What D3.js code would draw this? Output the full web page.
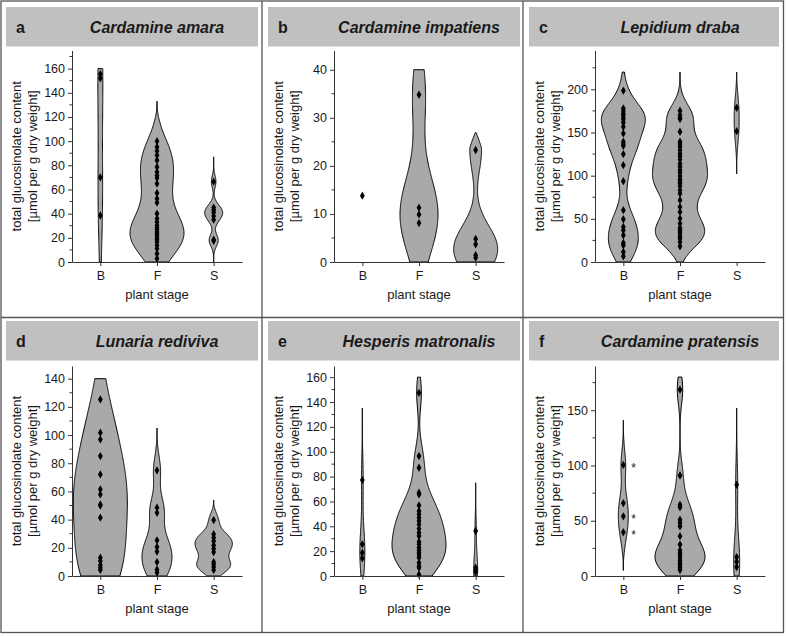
<!DOCTYPE html>
<meta charset="utf-8">

<head>

	<title> Glucosinolate content by plant stage </title>

	<style>
		body {
			margin: 0;
			background: #fff;
		}
		text {
			font-family: "Liberation Sans", Arial, sans-serif;
			fill: #1a1a1a;
		}
		.violin {
			fill: #a9a9a9;
			stroke: #000;
			stroke-width: 1px;
		}
		.axis path, .axis line, .minor {
			stroke: #333;
			stroke-width: 1px;
		}
		.axis text {
			font-size: 12.5px;
		}
		.frame {
			fill: none;
			stroke: #555;
			stroke-width: 1.3px;
		}
	</style>

</head>

<body>
  <div class="container"> </div>
</body>

<!-- D3.js -->
<script src="https://cdnjs.cloudflare.com/ajax/libs/d3/7.8.5/d3.min.js"></script>

<script type="text/javascript">

	// Page size
	var width = 786;
	var height = 636;

	// Panels and categories
	var stages = ["B", "F", "S"];
	var letters = ["a", "b", "c", "d", "e", "f"];
	var species = ["Cardamine amara", "Cardamine impatiens", "Lepidium draba",
		"Lunaria rediviva", "Hesperis matronalis", "Cardamine pratensis"];

	// y axis per panel
	var yTop = [175, 44, 245, 149, 169, 190];
	var majorStep = [20, 10, 50, 20, 20, 50];
	var minorStep = [10, 5, 25, 10, 10, 25];
	var violinClip = [160, 40, 220, 140, 160, 180];

	// total glucosinolate content, one array per panel + stage
	var aB = [38.5, 70, 152, 155.5];
	var aF = [2.8, 6.9, 11, 13.8, 16.6, 18.5, 20.1, 22.1, 23.4, 24.8, 26.8, 28.4, 30.3, 33.1, 35.9, 40,
		49.1, 52.4, 57.1, 64.8, 69.5, 71.7, 74.5, 78.6, 84.1, 88.3, 91.9, 95.2, 100];
	var aS = [17.5, 18.5, 35, 38, 41, 43, 45, 66.5];

	var bB = [13.8];
	var bF = [8.1, 9.9, 11.3, 34.8];
	var bS = [0.9, 1.4, 3.7, 4.8, 23.3];

	var cB = [6.6, 11.6, 19.3, 22, 30.9, 36.8, 40.6, 49.5, 60, 93.6, 112.2, 125, 134.6, 136.6, 139.3,
		148.9, 156.7, 161.7, 165.2, 167.5, 170.2, 172.1, 175.2, 178, 198.5];
	var cF = [18.2, 23.2, 27.1, 29.8, 32.9, 34.8, 37.5, 39.8, 44.5, 50.3, 58, 63.8, 71.6, 79.3, 83.2,
		87.8, 90.9, 92.8, 95.6, 99.4, 103.3, 106.4, 110.3, 114.1, 118.8, 122.6, 125.7, 129.6, 133.5,
		136.6, 139.3, 150.9, 165.6, 167.1, 170.2, 175.2];
	var cS = [151.6, 178.7];

	var dB = [4.3, 5.9, 7.8, 10.6, 13, 41.4, 50, 50.8, 57.9, 61.5, 72.1, 85.1, 96.9, 101.7, 125.3];
	var dF = [2.4, 4.7, 9.9, 17.3, 20.6, 25.3, 44.9, 48.5, 75];
	var dS = [4.3, 6.4, 8.3, 9.9, 17, 19.4, 21.8, 24.8, 27.2, 29.6, 39.7];

	var eB = [14.2, 18.8, 25.5, 77.2];
	var eF = [1.3, 6.7, 8, 10.7, 14.7, 16.9, 18.8, 20.6, 22.8, 25.5, 27.6, 32.2, 34.8, 38.1, 41.5,
		44.2, 46.9, 49.6, 52.3, 56.8, 65.7, 67, 87.1, 96.5, 147.4];
	var eS = [3.2, 4.6, 6.7, 36.2];

	var fB = [39.6, 54, 66, 100.5];
	var fF = [5.4, 7.5, 9.9, 12, 14.1, 16.5, 18.9, 21, 23.4, 28.5, 36, 45, 48, 51, 62.1, 64.5, 90.9, 168.6];
	var fS = [8.1, 12.9, 17.1, 82.5];

	// B values flagged with an asterisk
	var starredB = [[], [], [], [], [], [100.5, 54, 39.6]];

	var values = [[aB, aF, aS], [bB, bF, bS], [cB, cF, cS], [dB, dF, dS], [eB, eF, eS], [fB, fF, fS]];

	// kernel bandwidth and range of each violin (0 = no violin)
	var bandwidth = [[40, 14, 5], [0, 8, 4.5], [15, 14, 16], [25, 10, 5], [18, 13, 12], [13, 13, 22]];
	var kdeRange = [
		[[0, 160], [0, 133], [0, 87]],
		[null, [0, 40], [0, 27]],
		[[0, 220], [0, 220], [102, 220]],
		[[0, 140], [0, 105], [0, 54]],
		[[0, 135], [0, 160], [0, 75]],
		[[5, 141], [0, 180], [0, 152]]
	];
	// widest half width of each violin, px
	var halfWidth = [[2.5, 27, 9], [0, 19, 22], [22, 27.5, 2.5], [27, 15, 18.7], [2.5, 27, 2], [5, 25, 3]];

	// Layout
	var colLeft = [0, 262, 523];
	var headerY = [7, 321];
	var plotTop = [50.5, 366];
	var plotBottom = [262, 576];
	var plotWidth = 170;

	var svg = d3.select(".container").append("svg")
		.attr("width", width)
		.attr("height", height);

	function kde(vals, h, lo, hi, clip) {
		var n = 200;
		var pts = d3.range(n + 1).map(function (i) {
			var v = lo + (hi - lo) * i / n;
			var d = d3.sum(vals, function (x) { var u = (v - x) / h; return Math.exp(-0.5 * u * u); });
			return {v: v, d: d};
		});
		// pointed ends where the curve is not cut by the axis or clip
		var taper = 0.12 * (hi - lo);
		pts.forEach(function (d) {
			if (hi < clip && hi - d.v < taper) d.d *= Math.pow((hi - d.v) / taper, 0.7);
			if (lo > 0 && d.v - lo < taper) d.d *= Math.pow((d.v - lo) / taper, 0.7);
		});
		return pts;
	}

	letters.forEach(function (letter, p) {
		var col = p % 3, row = Math.floor(p / 3);
		var left = colLeft[col];
		var ax = left + 72;

		var y = d3.scaleLinear().domain([0, yTop[p]]).range([plotBottom[row], plotTop[row]]);
		var x = d3.scalePoint().domain(stages).range([ax, ax + plotWidth]).padding(0.5);

		var g = svg.append("g");

		// header bar
		g.append("rect")
			.attr("x", left + 6)
			.attr("y", headerY[row])
			.attr("width", col == 2 ? 250 : 252)
			.attr("height", 39.5)
			.attr("fill", "#c0c0c0");
		g.append("text")
			.attr("x", left + 16)
			.attr("y", headerY[row] + 26)
			.attr("font-size", 16)
			.attr("font-weight", "bold")
			.text(letter);
		g.append("text")
			.attr("x", ax + plotWidth / 2)
			.attr("y", headerY[row] + 26)
			.attr("text-anchor", "middle")
			.attr("font-size", 16)
			.attr("font-weight", "bold")
			.attr("font-style", "italic")
			.text(species[p]);

		// violins
		stages.forEach(function (s, i) {
			var h = bandwidth[p][i];
			if (!h) return;
			var r = kdeRange[p][i];
			var pts = kde(values[p][i], h, r[0], r[1], violinClip[p]);
			var w = d3.scaleLinear()
				.domain([0, d3.max(pts, function (d) { return d.d; })])
				.range([0, halfWidth[p][i]]);
			var cx = x(s);
			var area = d3.area()
				.y(function (d) { return y(d.v); })
				.x0(function (d) { return cx - w(d.d); })
				.x1(function (d) { return cx + w(d.d); });
			g.append("path")
				.attr("class", "violin")
				.attr("d", area(pts));
		});

		// data points
		stages.forEach(function (s, i) {
			g.selectAll(null)
				.data(values[p][i])
				.enter()
				.append("path")
				.attr("d", d3.symbol(d3.symbolDiamond, 20))
				.attr("transform", function (d) { return "translate(" + x(s) + "," + y(d) + ")"; })
				.attr("fill", "#000");
		});
		g.selectAll(null)
			.data(starredB[p])
			.enter()
			.append("text")
			.attr("x", x("B") + 8)
			.attr("y", function (d) { return y(d) + 7; })
			.attr("font-size", 12)
			.text("*");

		// axes
		var yAxis = d3.axisLeft(y)
			.tickValues(d3.range(0, yTop[p] + 0.001, majorStep[p]))
			.tickSize(4)
			.tickPadding(3)
			.tickSizeOuter(0);
		g.append("g")
			.attr("class", "axis")
			.attr("transform", "translate(" + ax + ",0)")
			.call(yAxis);

		var minors = d3.range(minorStep[p], yTop[p], minorStep[p])
			.filter(function (v) { return v % majorStep[p] != 0; });
		g.selectAll(null)
			.data(minors)
			.enter()
			.append("line")
			.attr("class", "minor")
			.attr("x1", ax - 2.5)
			.attr("x2", ax)
			.attr("y1", function (d) { return y(d); })
			.attr("y2", function (d) { return y(d); });

		var xAxis = d3.axisBottom(x)
			.tickSize(4)
			.tickPadding(5.5)
			.tickSizeOuter(0);
		g.append("g")
			.attr("class", "axis")
			.attr("transform", "translate(0," + plotBottom[row] + ")")
			.call(xAxis);

		// axis titles
		var midY = (plotTop[row] + plotBottom[row]) / 2;
		g.append("text")
			.attr("transform", "translate(" + (left + 21) + "," + midY + ") rotate(-90)")
			.attr("text-anchor", "middle")
			.attr("font-size", 13)
			.text("total glucosinolate content");
		g.append("text")
			.attr("transform", "translate(" + (left + 36.5) + "," + midY + ") rotate(-90)")
			.attr("text-anchor", "middle")
			.attr("font-size", 13)
			.text("[µmol per g dry weight]");
		g.append("text")
			.attr("x", ax + plotWidth / 2)
			.attr("y", plotBottom[row] + 37)
			.attr("text-anchor", "middle")
			.attr("font-size", 13)
			.text("plant stage");
	});

	// panel frame
	svg.append("rect")
		.attr("class", "frame")
		.attr("x", 1)
		.attr("y", 1)
		.attr("width", 782.5)
		.attr("height", 631.5);
	svg.append("line").attr("class", "frame")
		.attr("x1", 262).attr("x2", 262).attr("y1", 1).attr("y2", 632.5);
	svg.append("line").attr("class", "frame")
		.attr("x1", 523).attr("x2", 523).attr("y1", 1).attr("y2", 632.5);
	svg.append("line").attr("class", "frame")
		.attr("x1", 1).attr("x2", 783.5).attr("y1", 317.5).attr("y2", 317.5);

</script>

</html>
